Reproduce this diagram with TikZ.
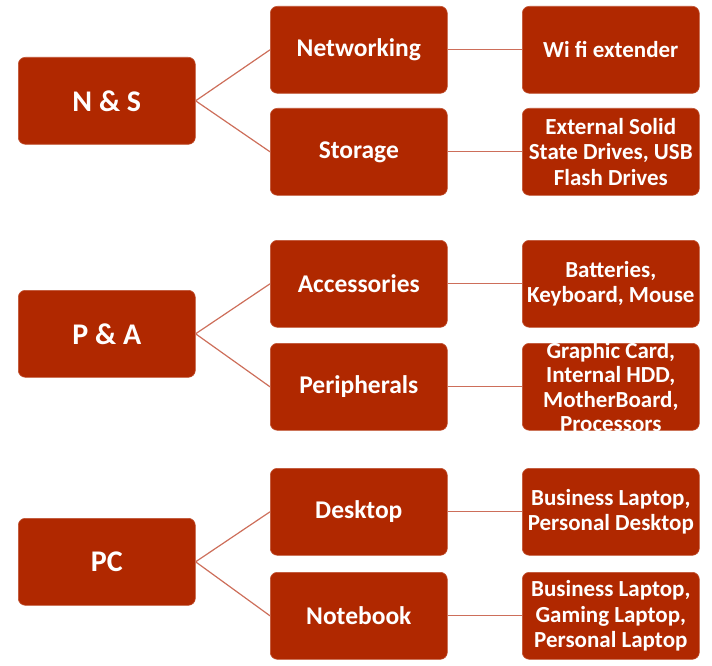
\documentclass[tikz,border=0pt]{standalone}
\usepackage{fontspec}
\setmainfont{Carlito}
\definecolor{boxred}{RGB}{176,40,0}
\definecolor{linered}{RGB}{205,110,90}
\begin{document}
\begin{tikzpicture}[x=1pt,y=-1pt,
  box/.style={fill=boxred,draw=boxred!80!white,line width=0.6pt,rounded corners=7pt,
    minimum width=177pt,minimum height=87pt,anchor=north west,inner sep=0pt,
    text=white,font=\bfseries,align=center},
  lbox/.style={box,font=\fontsize{30}{34}\selectfont\bfseries},
  mbox/.style={box,font=\fontsize{25.5}{30}\selectfont\bfseries},
  rbox/.style={box,font=\fontsize{23}{25.5}\selectfont\bfseries},
  conn/.style={draw=linered,line width=1.2pt}]
\useasboundingbox (0,0) rectangle (712,666);
% group 1
\node[lbox] (ns) at (18,57) {N \& S};
\node[mbox] (net) at (270,6) {Networking};
\node[mbox] (sto) at (270,108) {Storage};
\node[rbox] (wifi) at (522,6) {Wi fi extender};
\node[rbox] (ext) at (522,108) {External Solid\\State Drives, USB\\Flash Drives};
% group 2
\node[lbox] (pa) at (18,290) {P \& A};
\node[mbox] (acc) at (270,240) {Accessories};
\node[mbox] (per) at (270,343) {Peripherals};
\node[rbox] (bat) at (522,240) {Batteries,\\Keyboard, Mouse};
\node[rbox,label={[font=\fontsize{23}{24.5}\selectfont\bfseries,text=white,align=center]center:Graphic Card,\\Internal HDD,\\MotherBoard,\\Processors}] (gra) at (522,343) {};
% group 3
\node[lbox] (pc) at (18,518) {PC};
\node[mbox] (desk) at (270,468) {Desktop};
\node[mbox] (note) at (270,572) {Notebook};
\node[rbox] (bus1) at (522,468) {Business Laptop,\\Personal Desktop};
\node[rbox] (bus2) at (522,572) {Business Laptop,\\Gaming Laptop,\\Personal Laptop};
% connectors
\draw[conn] (ns.east) -- (net.west);
\draw[conn] (ns.east) -- (sto.west);
\draw[conn] (net.east) -- (wifi.west);
\draw[conn] (sto.east) -- (ext.west);
\draw[conn] (pa.east) -- (acc.west);
\draw[conn] (pa.east) -- (per.west);
\draw[conn] (acc.east) -- (bat.west);
\draw[conn] (per.east) -- (gra.west);
\draw[conn] (pc.east) -- (desk.west);
\draw[conn] (pc.east) -- (note.west);
\draw[conn] (desk.east) -- (bus1.west);
\draw[conn] (note.east) -- (bus2.west);
\end{tikzpicture}
\end{document}
